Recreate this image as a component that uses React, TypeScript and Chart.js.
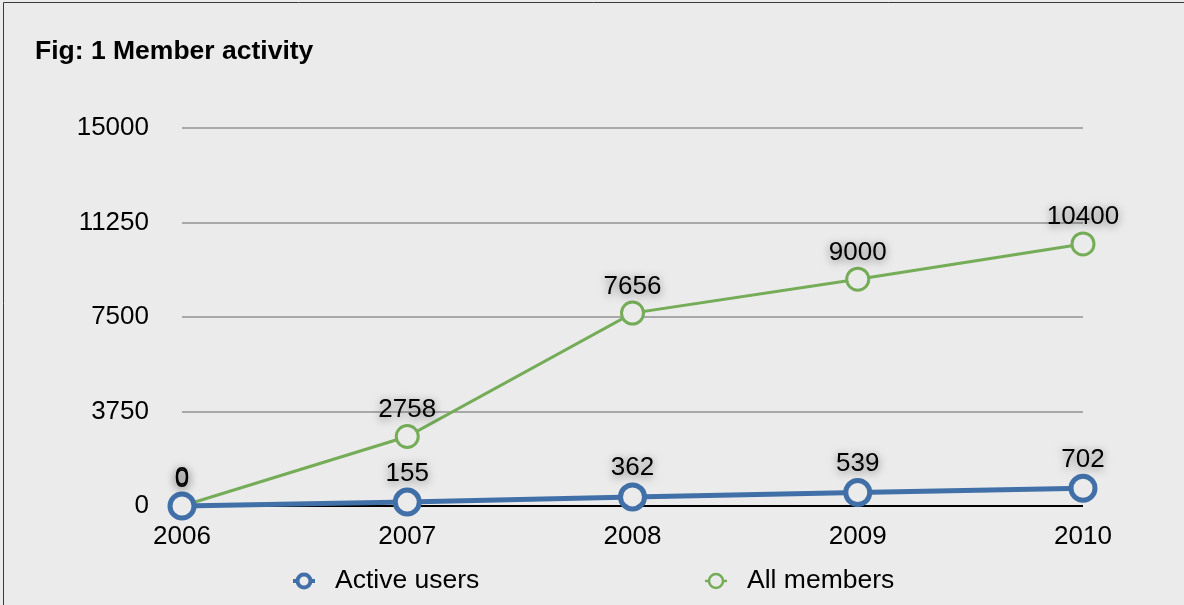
import React, { useEffect, useRef } from "react";
import { Chart, registerables } from "chart.js";

Chart.register(...registerables);

const years = ["2006", "2007", "2008", "2009", "2010"];
const activeUsers = [0, 155, 362, 539, 702];
const allMembers = [0, 2758, 7656, 9000, 10400];
const yTicks = [0, 3750, 7500, 11250, 15000];
const seriesNames = ["Active users", "All members"];
const titleText = "Fig: 1 Member activity";

const BG = "#ebebeb";
const BLUE = "#4170a8";
const GREEN = "#74ac57";
const FONT = "'Liberation Sans', Arial, Helvetica, sans-serif";

const backgroundPlugin = {
  id: "bgTitle",
  beforeDraw(chart: any) {
    const ctx = chart.ctx;
    ctx.save();
    ctx.fillStyle = BG;
    ctx.fillRect(0, 0, chart.width, chart.height);
    ctx.strokeStyle = "#3a3a3a";
    ctx.lineWidth = 1;
    ctx.beginPath();
    ctx.moveTo(3.5, chart.height);
    ctx.lineTo(3.5, 2.5);
    ctx.lineTo(chart.width, 2.5);
    ctx.stroke();
    ctx.fillStyle = "#000";
    ctx.font = `bold 26.5px ${FONT}`;
    ctx.textBaseline = "middle";
    ctx.textAlign = "left";
    ctx.fillText(titleText, 35, 52);
    ctx.restore();
  },
};

const labelPlugin = {
  id: "valueLabels",
  afterDatasetsDraw(chart: any) {
    const ctx = chart.ctx;
    ctx.save();
    ctx.font = `26px ${FONT}`;
    ctx.textAlign = "center";
    ctx.textBaseline = "alphabetic";
    ctx.fillStyle = "#000";
    ctx.shadowColor = "rgba(0,0,0,0.5)";
    ctx.shadowBlur = 8;
    ctx.shadowOffsetX = 0;
    ctx.shadowOffsetY = 2;
    for (let di = chart.data.datasets.length - 1; di >= 0; di--) {
      const ds = chart.data.datasets[di];
      const meta = chart.getDatasetMeta(di);
      const r = (ds.pointRadius || 0) + (ds.pointBorderWidth || 0) / 2;
      meta.data.forEach((pt: any, i: number) => {
        ctx.fillText(String(ds.data[i]), pt.x, pt.y - r - 7);
      });
    }
    ctx.restore();
  },
};

const legendPlugin = {
  id: "customLegend",
  afterDraw(chart: any) {
    const ctx = chart.ctx;
    const centers = [304, 716];
    const y = 581;
    ctx.save();
    chart.data.datasets.forEach((ds: any, i: number) => {
      const cx = centers[i];
      const thick = i === 0 ? 4 : 2.5;
      ctx.strokeStyle = ds.borderColor;
      ctx.lineWidth = thick;
      ctx.beginPath();
      ctx.moveTo(cx - 11, y);
      ctx.lineTo(cx + 11, y);
      ctx.stroke();
      ctx.beginPath();
      ctx.arc(cx, y, i === 0 ? 6.5 : 7, 0, Math.PI * 2);
      ctx.fillStyle = BG;
      ctx.fill();
      ctx.stroke();
      ctx.fillStyle = "#000";
      ctx.font = `26.5px ${FONT}`;
      ctx.textAlign = "left";
      ctx.textBaseline = "middle";
      ctx.fillText(ds.label, cx + 31, y);
    });
    ctx.restore();
  },
};

export default function App() {
  const canvasRef = useRef<HTMLCanvasElement | null>(null);

  useEffect(() => {
    document.body.style.margin = "0";
    const canvas = canvasRef.current;
    if (!canvas) return;
    const chart = new Chart(canvas, {
      type: "line",
      data: {
        labels: years,
        datasets: [
          {
            label: seriesNames[0],
            data: activeUsers,
            borderColor: BLUE,
            backgroundColor: BG,
            borderWidth: 5,
            pointRadius: 12,
            pointBorderWidth: 5,
            pointBackgroundColor: BG,
            pointBorderColor: BLUE,
            tension: 0,
            clip: false,
          },
          {
            label: seriesNames[1],
            data: allMembers,
            borderColor: GREEN,
            backgroundColor: BG,
            borderWidth: 3,
            pointRadius: 11,
            pointBorderWidth: 3,
            pointBackgroundColor: BG,
            pointBorderColor: GREEN,
            tension: 0,
            clip: false,
          },
        ] as any,
      },
      options: {
        animation: false,
        responsive: true,
        maintainAspectRatio: false,
        layout: { padding: { top: 128, right: 101, bottom: 0, left: 0 } },
        plugins: {
          legend: { display: false },
          title: { display: false },
          tooltip: { enabled: false },
        },
        scales: {
          x: {
            type: "category",
            offset: false,
            grid: { display: false, drawTicks: false },
            border: { display: false },
            ticks: {
              color: "#000",
              font: { family: FONT, size: 26 },
              padding: 15,
              maxRotation: 0,
              autoSkip: false,
            },
            afterFit: (s: any) => {
              s.height = 99;
            },
          },
          y: {
            min: 0,
            max: 15000,
            grid: {
              drawTicks: false,
              lineWidth: 2,
              color: (c: any) => (c.tick && c.tick.value === 0 ? "#000000" : "#a8a8a8"),
            },
            border: { display: false },
            afterBuildTicks: (s: any) => {
              s.ticks = yTicks.map((v) => ({ value: v }));
            },
            ticks: {
              color: "#000",
              font: { family: FONT, size: 26 },
              padding: 33,
              callback: (v: any) => String(v),
            },
            afterFit: (s: any) => {
              s.width = 182;
            },
          },
        },
      },
      plugins: [backgroundPlugin, labelPlugin, legendPlugin],
    });
    return () => chart.destroy();
  }, []);

  return (
    <div style={{ width: 1184, height: 605, position: "relative" }}>
      <canvas ref={canvasRef} />
    </div>
  );
}
